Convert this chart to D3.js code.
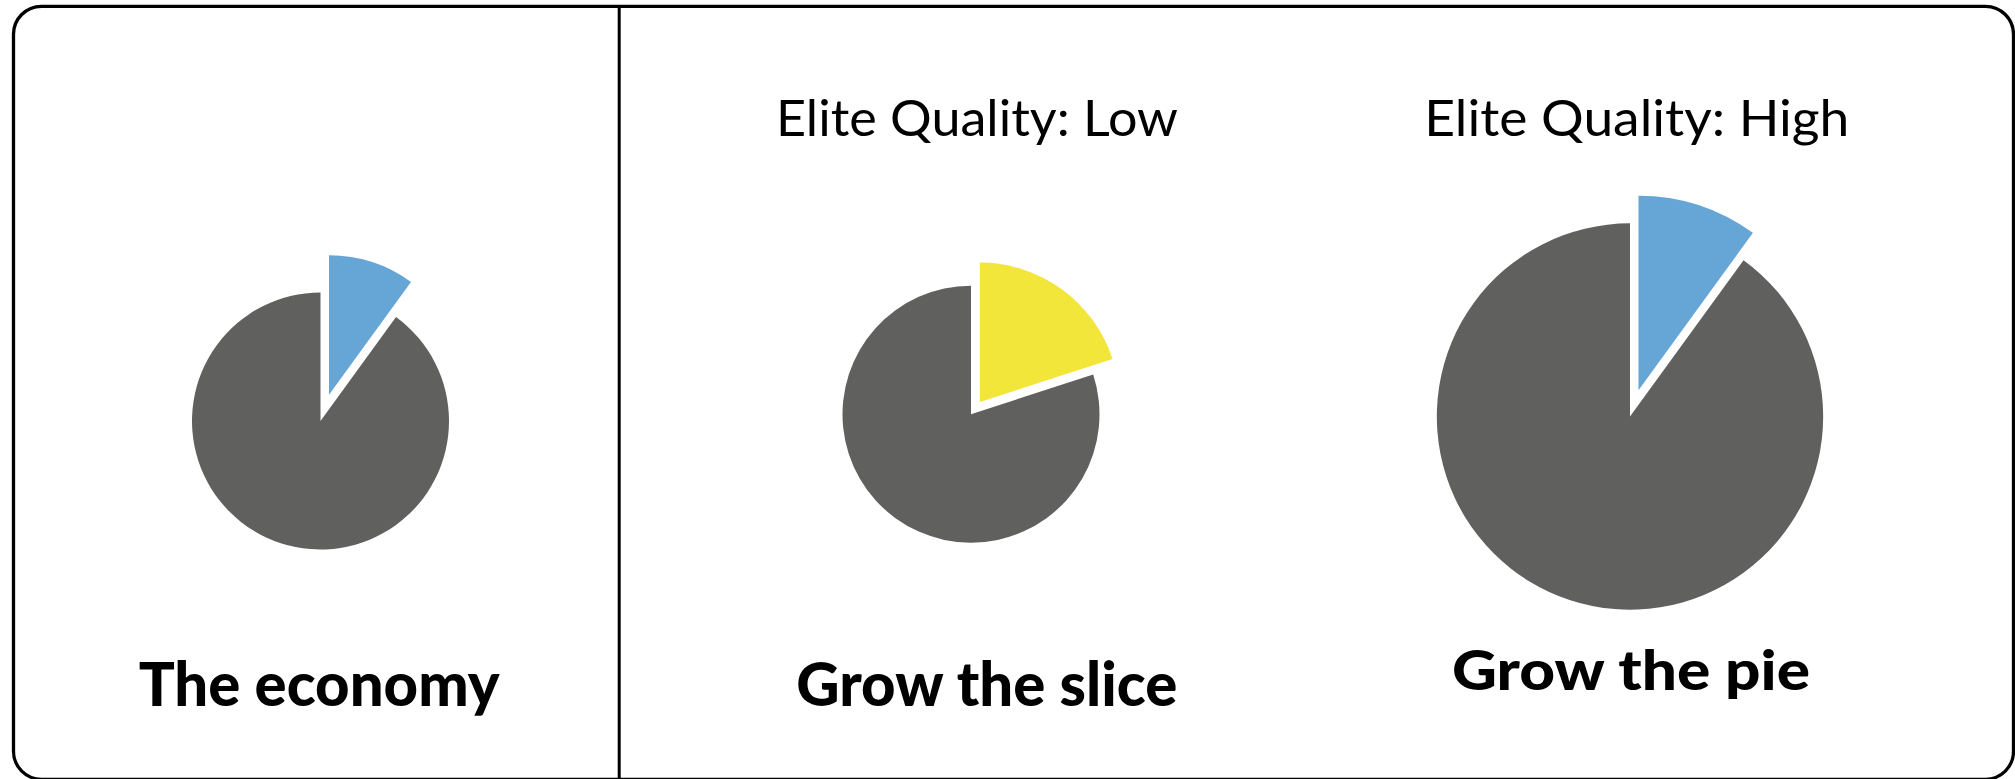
<!DOCTYPE html>
<html>
<head>
<meta charset="utf-8">
<script src="https://cdn.jsdelivr.net/npm/d3@7"></script>
<style>
  html, body { margin: 0; padding: 0; background: #ffffff; }
  svg { display: block; }
</style>
</head>
<body>
<svg id="chart" width="2015" height="779"></svg>
<script>
// ---- data ----
const panels       = ["The economy", "Grow the slice", "Grow the pie"];
const subtitles    = ["", "Elite Quality: Low", "Elite Quality: High"];
const eliteShare   = [10, 20, 10];          // % of the pie held by the elite slice
const restShare    = [90, 80, 90];          // % of the pie held by everyone else
const economySize  = [1, 1, 2.26];          // relative size (area) of each pie
const sliceColors  = ["#66a6d6", "#f2e63a", "#66a6d6"];

// ---- layout ----
const W = 2015, H = 779;
const svg = d3.select("#chart");
const restColor = "#60605e";

const centers   = [[320.5, 421], [971, 414.2], [1630, 416.5]];
const sliceGrow = [11, 11, 1.5];     // extra radius for the exploded slice
const explode   = [27.5, 15, 27.5];  // distance the slice is pulled out

const rScale = d3.scaleSqrt().domain([0, 1]).range([0, 128.5]);

// frame
svg.append("rect")
  .attr("x", 13.5).attr("y", 6.3)
  .attr("width", 2000).attr("height", 773)
  .attr("rx", 28).attr("ry", 28)
  .attr("fill", "none").attr("stroke", "#000").attr("stroke-width", 3.3);

svg.append("line")
  .attr("x1", 619.2).attr("x2", 619.2)
  .attr("y1", 6).attr("y2", H)
  .attr("stroke", "#000").attr("stroke-width", 3);

const pie = d3.pie().sort(null).value(d => d.v);

panels.forEach((name, i) => {
  const r = rScale(economySize[i]);
  const data = [
    { k: "elite", v: eliteShare[i] },
    { k: "rest",  v: restShare[i] }
  ];
  const arcs = pie(data);
  const g = svg.append("g").attr("transform", `translate(${centers[i][0]},${centers[i][1]})`);

  arcs.forEach(a => {
    const isElite = a.data.k === "elite";
    const outer = isElite ? r + sliceGrow[i] : r;
    const arcGen = d3.arc().innerRadius(0).outerRadius(outer);
    let dx = 0, dy = 0;
    if (isElite) {
      const mid = (a.startAngle + a.endAngle) / 2;
      dx = explode[i] * Math.sin(mid);
      dy = -explode[i] * Math.cos(mid);
    }
    g.append("path")
      .attr("d", arcGen(a))
      .attr("transform", `translate(${dx},${dy})`)
      .attr("fill", isElite ? sliceColors[i] : restColor);
  });
});

// labels
const titleFont = "Lato, 'Open Sans', 'DejaVu Sans', sans-serif";
const bottomLabels = [
  { x: 138.7, y: 705.7, w: 361, size: 61 },
  { x: 796.3, y: 705.7, w: 381, size: 61 },
  { x: 1452,  y: 690,   w: 358, size: 56 }
];
panels.forEach((name, i) => {
  const b = bottomLabels[i];
  svg.append("text")
    .attr("x", b.x).attr("y", b.y)
    .attr("textLength", b.w).attr("lengthAdjust", "spacingAndGlyphs")
    .attr("font-family", titleFont)
    .attr("font-weight", 900)
    .attr("font-size", b.size)
    .attr("fill", "#000")
    .text(name);
});

const topLabels = [
  null,
  { x: 776,    y: 135.7, w: 402, size: 50 },
  { x: 1424.3, y: 135.7, w: 425, size: 50 }
];
subtitles.forEach((s, i) => {
  if (!s) return;
  const t = topLabels[i];
  svg.append("text")
    .attr("x", t.x).attr("y", t.y)
    .attr("textLength", t.w).attr("lengthAdjust", "spacingAndGlyphs")
    .attr("font-family", titleFont)
    .attr("font-weight", 400)
    .attr("font-size", t.size)
    .attr("fill", "#000")
    .text(s);
});
</script>
</body>
</html>
